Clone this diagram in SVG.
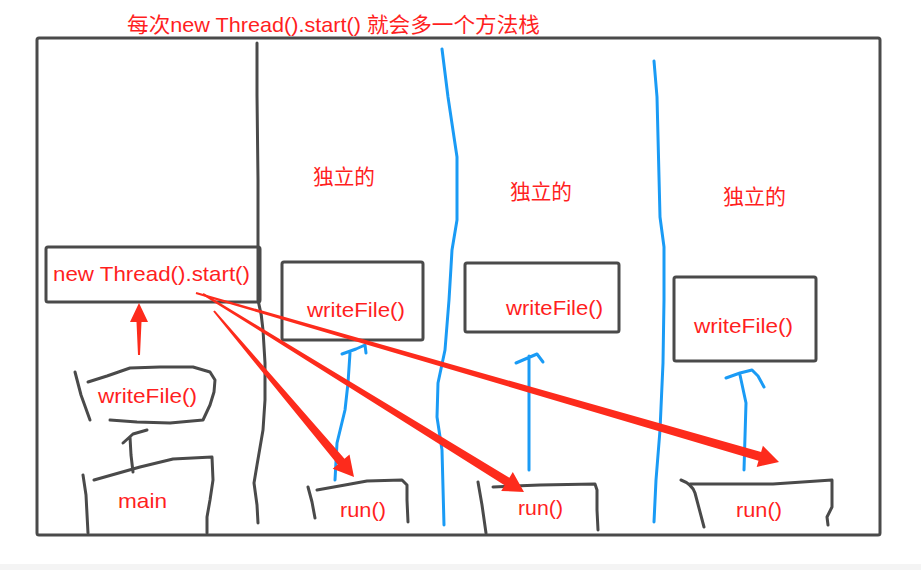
<svg xmlns="http://www.w3.org/2000/svg" width="921" height="570" viewBox="0 0 921 570">
<defs>
<style>
.ink{fill:none;stroke:#4a4a4a;stroke-width:3;stroke-linecap:round;stroke-linejoin:round}
.blue{fill:none;stroke:#1a9bf5;stroke-width:3;stroke-linecap:round;stroke-linejoin:round}
.red{fill:#fd2b1c;stroke:none}
.t{font-family:"Liberation Sans","Noto Sans CJK SC",sans-serif;font-size:21px;fill:#ff1f1f}
</style>
</defs>
<rect x="0" y="0" width="921" height="570" fill="#ffffff"/>
<rect x="0" y="564" width="921" height="6" fill="#f4f4f4"/>
<g id="frame">
<rect x="37" y="38" width="843" height="497" rx="2" class="ink"/>
<path class="ink" d="M257,43 L257,95 L258,180 L258,300 Q262,315 263,330 L265,363 L265,400 L263,430 L257,465 L254,483 L257,505 L258,523"/>
<path class="blue" d="M442,49 L448,97 L457,157 L457,220 L452,250 L451,267 L449,300 L445,350 L438,383 L437,417 L442,450 L444,525"/>
<path class="blue" d="M654,61 L657,97 L660,217 L664,247 L664,300 L663,363 L660,430 L656,480 L654,522"/>
</g>
<g id="title"><text class="t" x="127" y="32" textLength="413" lengthAdjust="spacingAndGlyphs">每次new Thread().start() 就会多一个方法栈</text></g>
<g id="label-1"><text class="t" x="313" y="184" textLength="62" lengthAdjust="spacingAndGlyphs">独立的</text></g>
<g id="label-2"><text class="t" x="510" y="199" textLength="62" lengthAdjust="spacingAndGlyphs">独立的</text></g>
<g id="label-3"><text class="t" x="723" y="204" textLength="63" lengthAdjust="spacingAndGlyphs">独立的</text></g>
<g id="node-start">
<rect x="46" y="247" width="214" height="55" rx="2" class="ink"/>
<text class="t" x="53" y="281" textLength="197" lengthAdjust="spacingAndGlyphs">new Thread().start()</text>
</g>
<g id="node-writefile-main">
<path class="ink" d="M75,372 L81,395 L90,420"/>
<path class="ink" d="M88,382 L107,376 L130,368 L160,367 L193,367 L210,372 L215,380 L214,392 L210,405 L203,420 L170,423 L137,422 L110,420"/>
<text class="t" x="98" y="403" textLength="99" lengthAdjust="spacingAndGlyphs">writeFile()</text>
</g>
<g id="node-main">
<path class="ink" d="M83,475 L86,495 L88,533"/>
<path class="ink" d="M94,480 L140,467 L173,459 L212,457 L213,480 L210,500 L207,517 L207,533"/>
<text class="t" x="118" y="508" textLength="49" lengthAdjust="spacingAndGlyphs">main</text>
</g>
<g id="node-wf1">
<rect x="282" y="262" width="141" height="78" rx="2" class="ink"/>
<text class="t" x="307" y="317" textLength="98" lengthAdjust="spacingAndGlyphs">writeFile()</text>
</g>
<g id="node-wf2">
<rect x="465" y="263" width="154" height="69" rx="2" class="ink"/>
<text class="t" x="506" y="315" textLength="97" lengthAdjust="spacingAndGlyphs">writeFile()</text>
</g>
<g id="node-wf3">
<rect x="674" y="277" width="142" height="84" rx="2" class="ink"/>
<text class="t" x="694" y="333" textLength="99" lengthAdjust="spacingAndGlyphs">writeFile()</text>
</g>
<g id="node-run1">
<path class="ink" d="M308,487 L312,502 L315,518"/>
<path class="ink" d="M317,490 L345,485 L367,481 L402,480 L407,485 L407,500 L408,522"/>
<text class="t" x="340" y="517" textLength="46" lengthAdjust="spacingAndGlyphs">run()</text>
</g>
<g id="node-run2">
<path class="ink" d="M478,482 L482,505 L486,533"/>
<path class="ink" d="M493,487 L540,485 L595,484 L597,490 L597,510 L598,530"/>
<text class="t" x="518" y="515" textLength="45" lengthAdjust="spacingAndGlyphs">run()</text>
</g>
<g id="node-run3">
<path class="ink" d="M681,480 Q692,484 695,493 L704,527"/>
<path class="ink" d="M690,484 L773,484 L832,480 L832,507 L827,517 L828,525"/>
<text class="t" x="736" y="517" textLength="46" lengthAdjust="spacingAndGlyphs">run()</text>
</g>
<g id="connectors">
<path class="ink" d="M133,472 L131,455 L130,437 M123,443 L133,434 L147,430"/>
<polygon class="red" points="138,355 136.5,322 130,322 139,303 148,322 141.5,322 140,355"/>
<path class="blue" d="M335,480 L337,443 L345,410 L348,383 L350,353 M342,354 L356,349 L365,345 L366,353"/>
<path class="blue" d="M529,470 L529,356 M516,363 L537,354 L543,362"/>
<path class="blue" d="M744,470 L746,403 L740,375 M726,378 L740,373 L752,370 L758,376 L764,387"/>
<polygon class="red" points="196.3,292.0 761.1,452.1 762.9,445.8 779,462 756.7,467.0 758.5,460.7 195.7,294.0"/>
<polygon class="red" points="203.5,293.1 509.4,477.7 512.8,472.1 524,492 501.2,490.9 504.6,485.3 202.5,294.9"/>
<polygon class="red" points="214.8,310.4 344.5,458.8 349.5,454.6 354,477 332.7,468.8 337.7,464.6 213.2,311.6"/>
</g>
</svg>
